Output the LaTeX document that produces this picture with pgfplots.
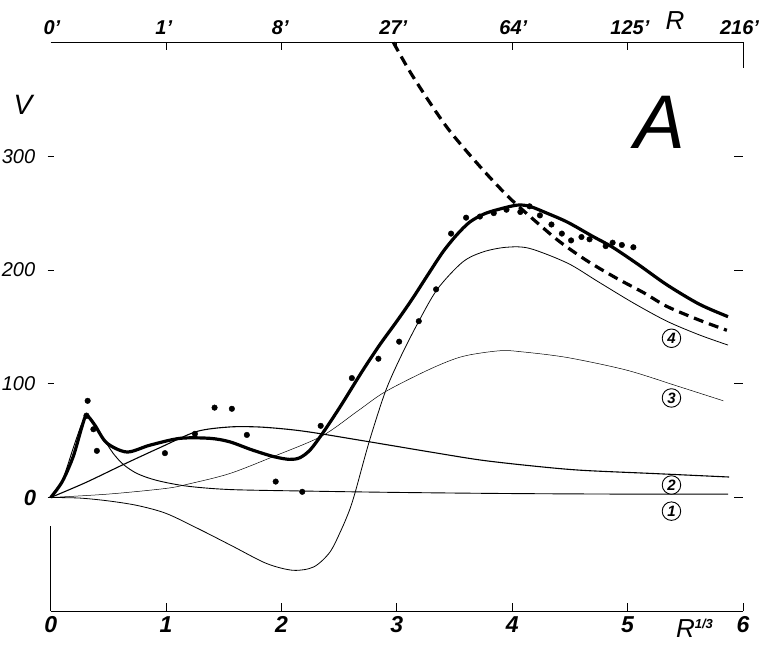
\documentclass[border=0pt]{standalone}
\usepackage{pgfplots}
\pgfplotsset{compat=1.18}
\usepackage{fontspec}
\setmainfont{Liberation Sans}
\tikzset{
  toplab/.style={font=\fontsize{20}{20}\selectfont\bfseries\itshape},
  circlab/.style={circle, draw, line width=0.9pt, inner sep=0pt, minimum size=18.5pt, fill=white, font=\fontsize{15}{15}\selectfont\bfseries\itshape},
  ylab/.style={anchor=east, font=\fontsize{20}{20}\selectfont\itshape}
}
\begin{document}
\begin{tikzpicture}
\begin{axis}[
  scale only axis, width=692pt, height=568.5pt,
  xmin=0, xmax=6, ymin=-100, ymax=400,
  clip=false,
  axis x line*=bottom,
  axis y line=none,
  xtick={0,1,2,3,4,5,6},
  xtick align=inside,
  major tick length=8pt,
  tick style={black, line width=0.8pt},
  x axis line style={line width=0.8pt},
  xticklabel style={font=\fontsize{23}{23}\selectfont\bfseries\itshape, yshift=-2pt},
  /pgf/number format/assume math mode=true,
  ytick=\empty,
]
\coordinate (ll) at (axis cs:0,-100);
\coordinate (ur) at (axis cs:6,400);

% frame pieces
\draw[line width=0.8pt] (axis cs:0,400) -- (axis cs:6,400) -- (axis cs:6,378);
\draw[line width=0.8pt] (axis cs:0,-100) -- (axis cs:0,-25);
\pgfplotsinvokeforeach{1,2,3,4,5}{\draw[line width=0.8pt] (axis cs:#1,400) -- ++(0pt,-7pt);}
\pgfplotsinvokeforeach{0,100,200,300}{%
  \draw[line width=0.8pt] ([xshift=-3pt]axis cs:0,#1) -- ([xshift=3pt]axis cs:0,#1);
  \draw[line width=0.8pt] (axis cs:6,#1) -- ([xshift=-9pt]axis cs:6,#1);}

% y tick labels
\node[ylab] at ([xshift=-12pt]axis cs:0,300) {300};
\node[ylab] at ([xshift=-12pt]axis cs:0,200) {200};
\node[ylab] at ([xshift=-12pt]axis cs:0,100) {100};
\node[anchor=east, font=\fontsize{22}{22}\selectfont\bfseries\itshape] at ([xshift=-11pt]axis cs:0,0) {0};

% top labels
\node[toplab] at (axis cs:0.01,413) {0'};
\node[toplab] at (axis cs:0.98,413) {1'};
\node[toplab] at (axis cs:1.99,413) {8'};
\node[toplab] at (axis cs:2.97,413) {27'};
\node[toplab] at (axis cs:4.01,413) {64'};
\node[toplab] at (axis cs:5.02,413) {125'};
\node[toplab] at (axis cs:5.97,413) {216'};
\node[font=\fontsize{26}{26}\selectfont\itshape] at (axis cs:5.41,419) {R};

\node[font=\fontsize{28}{28}\selectfont\itshape] at (axis cs:-0.24,345) {V};
\node[font=\fontsize{76}{76}\selectfont\itshape] at (axis cs:5.28,330) {A};
\node[anchor=north, font=\fontsize{26}{26}\selectfont\itshape] at ([yshift=-4pt]axis cs:5.58,-100) {R\raisebox{9pt}{\fontsize{13}{13}\selectfont\bfseries 1/3}};

% curve 1
\addplot[black, line width=0.9pt, smooth, tension=0.5] coordinates {
(0,0) (0.1,15) (0.2,45) (0.27,65) (0.31,70) (0.36,67) (0.45,53) (0.54,39) (0.63,29) (0.75,21) (0.92,15) (1.18,10) (1.55,7) (2.18,5.7) (2.97,4.5) (3.95,3.5) (4.94,3) (5.87,3)};
% curve 2
\addplot[black, line width=1.1pt, smooth, tension=0.5] coordinates {
(0,0) (0.3,13) (0.63,29) (0.95,44) (1.265,58) (1.55,62) (1.8,62) (2.05,60) (2.28,57) (2.76,49) (3.29,40) (3.72,33) (4.15,28) (4.59,24) (5.24,21) (5.88,18)};
% curve 3
\addplot[black, line width=0.5pt, smooth, tension=0.5] coordinates {
(0,0) (0.5,3) (1.0,8) (1.2,12) (1.55,21) (1.93,36) (2.35,54) (2.66,76) (2.90,93) (3.29,113) (3.57,124) (3.89,129) (4.09,128) (4.48,123) (4.99,112) (5.43,98) (5.83,85)};
% curve 4
\addplot[black, line width=0.8pt, smooth, tension=0.5] coordinates {
(0,0) (0.25,-0.5) (0.5,-3) (0.75,-7) (1.0,-14) (1.29,-28) (1.58,-43) (1.87,-58) (2.10,-64) (2.28,-61) (2.42,-48) (2.52,-28) (2.59,-11) (2.64,5) (2.76,49) (2.90,93) (3.03,123) (3.18,153) (3.35,183) (3.57,207) (3.75,216) (3.95,220) (4.15,219) (4.48,206) (4.74,190) (5.05,171) (5.34,155) (5.62,143) (5.87,134)};
% total (thick)
\addplot[black, line width=3.2pt, smooth, tension=0.5] coordinates {
(0,0) (0.1,14) (0.195,36) (0.27,62) (0.31,72) (0.38,64) (0.485,48) (0.66,40) (0.86,46) (1.12,52) (1.38,52) (1.55,49) (1.74,42) (1.93,36) (2.07,33.5) (2.16,35) (2.25,42) (2.36,57) (2.51,80) (2.70,111) (2.85,134) (3.0,155) (3.13,174) (3.27,196) (3.40,216) (3.52,231) (3.63,242) (3.75,249) (3.87,253) (4.04,257) (4.15,256) (4.30,250) (4.48,242) (4.69,230) (4.87,220) (5.09,205) (5.34,187) (5.62,170) (5.87,159)};
% dashed
\addplot[black, line width=3.2pt, dash pattern=on 10pt off 6pt, smooth, tension=0.5] coordinates {
(2.97,400) (3.14,370) (3.43,326) (3.72,291) (3.97,264) (4.20,243) (4.41,225) (4.65,208) (4.90,193) (5.14,180) (5.34,168) (5.62,156) (5.86,147)};
% observed points
\addplot[only marks, mark=*, mark size=2.8pt, black] coordinates {
(0.32,85) (0.31,72) (0.37,60) (0.40,41) (0.99,39) (1.25,56) (1.42,79) (1.57,78) (1.70,55) (1.95,14) (2.18,5) (2.34,63) (2.61,105) (2.84,122) (3.02,137) (3.19,155) (3.34,183) (3.47,232) (3.60,246) (3.72,247) (3.84,250) (3.95,253) (4.07,251) (4.15,256) (4.24,248) (4.34,240) (4.43,232) (4.51,226) (4.60,229) (4.67,227) (4.81,221) (4.87,224) (4.95,222) (5.05,220)};

% circled curve numbers
\node[circlab] at (axis cs:5.38,140) {4};
\node[circlab] at (axis cs:5.38,87.5) {3};
\node[circlab] at (axis cs:5.38,11) {2};
\node[circlab] at (axis cs:5.38,-12) {1};
\end{axis}
\pgfresetboundingbox
\path ([xshift=-50.7pt,yshift=-46pt]ll) rectangle ([xshift=28pt,yshift=42.5pt]ur);
\end{tikzpicture}
\end{document}
